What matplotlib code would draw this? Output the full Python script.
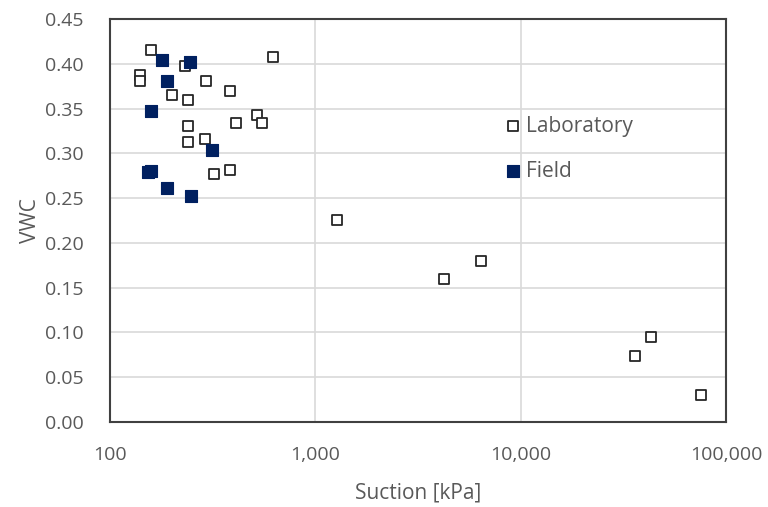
import numpy as np
import matplotlib
matplotlib.use("Agg")
import matplotlib.pyplot as plt
from matplotlib.ticker import FuncFormatter, FixedLocator

plt.rcParams['font.family'] = ['Open Sans', 'DejaVu Sans']

# laboratory measurements: suction [kPa] vs volumetric water content
lab_suction = [158, 232, 140, 140, 292, 383, 200, 239, 620, 520, 548, 409,
               239, 239, 291, 320, 383, 1279, 4250, 6437, 43150, 36000, 75300]
lab_vwc = [0.415, 0.398, 0.387, 0.381, 0.381, 0.370, 0.365, 0.360, 0.408, 0.343,
           0.334, 0.334, 0.331, 0.313, 0.316, 0.277, 0.281, 0.225, 0.159, 0.180,
           0.095, 0.073, 0.030]

# field measurements
field_suction = [180, 245, 189, 158, 315, 154, 158, 190, 249]
field_vwc = [0.404, 0.402, 0.381, 0.347, 0.304, 0.279, 0.280, 0.261, 0.252]

x_ticks = [100, 1000, 10000, 100000]
y_ticks = [0.00, 0.05, 0.10, 0.15, 0.20, 0.25, 0.30, 0.35, 0.40, 0.45]

grey_text = '#595959'
grid_col = '#d9d9d9'
box_col = '#404040'

fig = plt.figure(figsize=(7.68, 5.07), dpi=100)
ax = fig.add_axes([0.1432, 0.168, 0.8021, 0.7945])

ax.scatter(lab_suction, lab_vwc, marker='s', s=62, facecolors='white',
           edgecolors='#262626', linewidths=1.3, label='Laboratory', zorder=3)
ax.scatter(field_suction, field_vwc, marker='s', s=70, facecolors='#002060',
           edgecolors='#002060', linewidths=0.8, label='Field', zorder=3)

ax.set_xscale('log')
ax.set_xlim(100, 100000)
ax.set_ylim(0, 0.45)
ax.xaxis.set_major_locator(FixedLocator(x_ticks))
ax.xaxis.set_minor_locator(FixedLocator([]))
ax.yaxis.set_major_locator(FixedLocator(y_ticks))
ax.xaxis.set_major_formatter(FuncFormatter(lambda v, p: f'{int(round(v)):,}'))
ax.yaxis.set_major_formatter(FuncFormatter(lambda v, p: f'{v:.2f}'))

ax.grid(True, color=grid_col, linewidth=1.2, zorder=0)
ax.set_axisbelow(True)
for s in ax.spines.values():
    s.set_color(box_col)
    s.set_linewidth(1.5)

ax.tick_params(axis='both', length=0, labelsize=14, labelcolor=grey_text)
ax.tick_params(axis='x', pad=17.5)
ax.tick_params(axis='y', pad=19)

ax.set_xlabel('Suction [kPa]', fontsize=15, color=grey_text, labelpad=13)
ax.set_ylabel('VWC', fontsize=15, color=grey_text, labelpad=3)

leg = ax.legend(loc='center left', bbox_to_anchor=(0.637, 0.678), frameon=False,
                fontsize=15, labelspacing=1.16, handletextpad=0.15,
                handlelength=1.0, borderpad=0, borderaxespad=0)
for t in leg.get_texts():
    t.set_color(grey_text)

fig.savefig('out.png', dpi=100, facecolor='white')
